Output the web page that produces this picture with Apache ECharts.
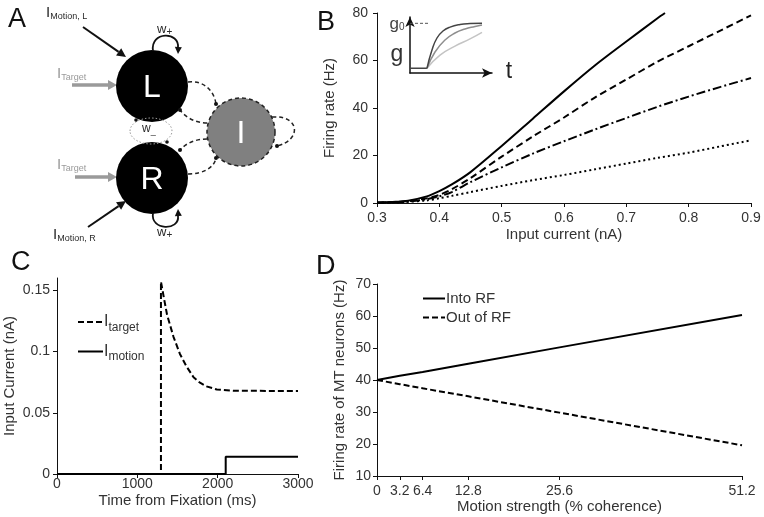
<!DOCTYPE html>
<html><head><meta charset="utf-8">
<script src="https://cdn.jsdelivr.net/npm/echarts@6/dist/echarts.min.js"></script>
<style>html,body{margin:0;padding:0;background:#fff}#c{width:764px;height:517px}</style>
</head><body><div id="c"></div><script>
// ---------- DATA ----------
// Panel B: firing rate vs input current
const bCurrent = [0.30,0.33,0.35,0.38,0.40,0.42,0.45,0.50,0.55,0.60,0.65,0.70,0.75,0.80,0.85,0.90];
const bCurrentSolid = [0.30,0.33,0.35,0.38,0.40,0.42,0.45,0.50,0.55,0.60,0.65,0.70,0.75,0.762];
const bSolid   = [0.2,0.5,1.0,2.8,5.0,7.8,13.0,24.0,35.5,47.0,58,68,77.8,80];
const bDashed  = [0.1,0.4,0.8,2.0,3.4,5.8,10.5,19.5,28,36,44.5,52,59.5,66,72.5,79];
const bDashDot = [0.1,0.3,0.6,1.6,2.8,4.6,8.8,15.0,20.8,26,31,35.8,40.5,44.8,48.8,52.6];
const bDotted  = [0.1,0.2,0.5,1.1,2.0,3.0,4.6,7.2,9.6,11.8,14.2,16.6,19,21.2,23.8,26.4];
// Inset of panel B: conductance g(t)
const insetBaseT = [0, 2.07];
const insetBaseG = [0.084, 0.084];
const insetG0T = [0, 2.44];
const insetG0G = [0.887, 0.887];
const insetDarkT = [2.07,2.68,3.29,4.02,4.88,6.1,7.32,8.78];
const insetDarkG = [0.084,0.41,0.625,0.75,0.82,0.866,0.882,0.887];
const insetMidT  = [2.07,3.05,4.27,5.49,6.71,7.93,8.78];
const insetMidG  = [0.084,0.375,0.59,0.714,0.786,0.83,0.857];
const insetLightT = [2.07,3.66,5.49,7.32,8.78];
const insetLightG = [0.084,0.32,0.48,0.61,0.727];
// Panel C: input currents over time
const cTargetT = [0,1294,1294,1330,1370,1450,1530,1610,1700,1780,1860,1990,2200,3000];
const cTargetI = [0,0,0.157,0.144,0.130,0.112,0.098,0.088,0.079,0.0745,0.0715,0.069,0.068,0.0677];
const cMotionT = [0,2100,2100,3000];
const cMotionI = [0,0,0.014,0.014];
const cYTicks = [0,0.05,0.1,0.15];
// Panel D: MT firing rates vs coherence
const dCoherence = [0,3.2,6.4,12.8,25.6,51.2];
const dInto = [40,41.3,42.5,45.1,50.2,60.3];
const dOut  = [40,38.7,37.4,34.9,29.8,19.6];

// ---------- helpers ----------
const FF = 'Liberation Sans, Arial, sans-serif';
const zip = (a,b) => a.map((v,i)=>[v,b[i]]);
const TXT = '#2a2a2a';

function arrow(x1,y1,x2,y2,color,w,hl,hw){
  const a = Math.atan2(y2-y1,x2-x1);
  const bx = x2 - hl*Math.cos(a), by = y2 - hl*Math.sin(a);
  return [
    {type:'line', shape:{x1,y1,x2:bx,y2:by}, style:{stroke:color,lineWidth:w}},
    {type:'polygon', shape:{points:[[x2,y2],[bx+hw*Math.sin(a),by-hw*Math.cos(a)],[bx-hw*Math.sin(a),by+hw*Math.cos(a)]]}, style:{fill:color}}
  ];
}
function head(x,y,fx,fy,color,hl,hw){
  const a = Math.atan2(y-fy,x-fx);
  const bx = x - hl*Math.cos(a), by = y - hl*Math.sin(a);
  return {type:'polygon', shape:{points:[[x,y],[bx+hw*Math.sin(a),by-hw*Math.cos(a)],[bx-hw*Math.sin(a),by+hw*Math.cos(a)]]}, style:{fill:color}};
}
function bez(x1,y1,c1x,c1y,c2x,c2y,x2,y2,style){
  return {type:'bezierCurve', shape:{x1,y1,cpx1:c1x,cpy1:c1y,cpx2:c2x,cpy2:c2y,x2,y2}, style:Object.assign({fill:null},style)};
}
function dot(x,y,r,c){ return {type:'circle', shape:{cx:x,cy:y,r:r}, style:{fill:c||'#111'}}; }
function sublabel(x,y,main,sub,color,big,small){
  return {type:'text', x, y, style:{text:'{a|'+main+'}{b|'+sub+'}', fill:color, font: big+'px '+FF,
    verticalAlign:'top', align:'left',
    rich:{a:{fontSize:big, fontFamily:FF, fill:color}, b:{fontSize:small, fontFamily:FF, fill:color, padding:[Math.round(big*0.45),0,0,0]}}}};
}
function letter(t,x,y){ return {type:'text', x, y, style:{text:t, font:'27px '+FF, fill:'#111', align:'left', verticalAlign:'middle'}}; }

const dashed = {stroke:'#222', lineWidth:1.5, lineDash:[4,3]};
const graphics = [].concat(
  [letter('A',8,20), letter('B',317,23), letter('C',11,263), letter('D',316,267)],
  arrow(83,27,126,57,'#111',2,9,4.5),
  arrow(88,227,126,201,'#111',2,9,4.5),
  arrow(72,85,117,85,'#9a9a9a',3.5,9,5),
  arrow(75,177,117,177,'#9a9a9a',3.5,9,5),
  [
    sublabel(46,5,'I','Motion, L',TXT,15,9),
    sublabel(57,66,'I','Target','#9a9a9a',15,9),
    sublabel(57,157,'I','Target','#9a9a9a',15,9),
    sublabel(53,227,'I','Motion, R',TXT,15,9)
  ],
  [
    {type:'circle', shape:{cx:152,cy:86,r:36}, style:{fill:'#000'}},
    {type:'circle', shape:{cx:152,cy:178,r:36}, style:{fill:'#000'}},
    {type:'circle', shape:{cx:241,cy:132,r:34}, style:{fill:'#808080', stroke:'#222', lineWidth:1.5, lineDash:[4,3]}},
    {type:'text', x:152, y:88, style:{text:'L', font:'32px '+FF, fill:'#fff', align:'center', verticalAlign:'middle'}},
    {type:'text', x:152, y:180, style:{text:'R', font:'32px '+FF, fill:'#fff', align:'center', verticalAlign:'middle'}},
    {type:'text', x:241, y:134, style:{text:'I', font:'32px '+FF, fill:'#fff', align:'center', verticalAlign:'middle'}}
  ],
  [
    bez(153,51,150,31,180,31,178,48,{stroke:'#111',lineWidth:1.8}),
    head(178,54,178.5,44,'#111',7,3.5),
    sublabel(157,21,'w','+',TXT,13,10),
    bez(153,213,150,231,180,231,178,216,{stroke:'#111',lineWidth:1.8}),
    head(178,209,178.5,219,'#111',7,3.5),
    sublabel(157,224,'w','+',TXT,13,10)
  ],
  [
    {type:'ellipse', shape:{cx:151,cy:131,rx:21,ry:13}, style:{fill:null, stroke:'#999', lineWidth:1, lineDash:[1.5,2]}},
    dot(136,120,1.8), dot(167,142,1.8),
    sublabel(142,122,'w','_',TXT,12,9)
  ],
  [
    bez(188,82,203,80,214,90,216,104,dashed), dot(216,104,2),
    bez(207,123,196,123,186,118,180,110,dashed), dot(180,110,2),
    bez(207,139,196,139,186,143,180,150,dashed), dot(180,150,2),
    bez(188,174,203,174,214,168,216,158,dashed), dot(216,158,2),
    bez(272,117,300,115,302,140,277,146,dashed), dot(277,146,2)
  ],
  [
    {type:'text', x:397, y:24, style:{text:'{a|g}{b|0}', font:'17px '+FF, fill:'#444', align:'center', verticalAlign:'middle',
      rich:{a:{fontSize:17,fontFamily:FF,fill:'#444'}, b:{fontSize:10,fontFamily:FF,fill:'#444',padding:[7,0,0,0]}}}},
    {type:'text', x:397, y:55, style:{text:'g', font:'23px '+FF, fill:'#333', align:'center', verticalAlign:'middle'}},
    {type:'text', x:509, y:72, style:{text:'t', font:'23px '+FF, fill:'#222', align:'center', verticalAlign:'middle'}}
  ]
);

const axisTxt = {color:'#333', fontSize:14, fontFamily:FF};
const nameTxt = {color:'#333', fontSize:15, fontFamily:FF};
const aLine = {show:true, onZero:false, lineStyle:{color:'#111', width:1}};
const aTick = {show:true, inside:false, length:4, lineStyle:{color:'#111'}};
const plain = v => String(v);

const option = {
  animation:false,
  backgroundColor:'#fff',
  textStyle:{fontFamily:FF},
  graphic: graphics,
  grid:[
    {left:377, right:13, top:13, bottom:314},
    {left:410, top:17, width:82, height:56},
    {left:57, width:241, top:278, bottom:43},
    {left:377, width:365, top:284, bottom:41}
  ],
  xAxis:[
    {gridIndex:0, type:'value', min:0.3, max:0.9, interval:0.1, axisLine:aLine, axisTick:aTick, splitLine:{show:false},
     axisLabel:Object.assign({margin:8, formatter:v=>v.toFixed(1)},axisTxt),
     name:'Input current (nA)', nameLocation:'middle', nameGap:24, nameTextStyle:nameTxt},
    {gridIndex:1, type:'value', min:0, max:10, axisLine:{show:true,onZero:false,symbol:['none','arrow'],symbolSize:[7,10],lineStyle:{color:'#111',width:1.5}},
     axisTick:{show:false}, axisLabel:{show:false}, splitLine:{show:false}},
    {gridIndex:2, type:'value', min:0, max:3000, interval:1000, axisLine:aLine, axisTick:aTick, splitLine:{show:false},
     axisLabel:Object.assign({margin:3, formatter:plain},axisTxt),
     name:'Time from Fixation (ms)', nameLocation:'middle', nameGap:19, nameTextStyle:nameTxt},
    {gridIndex:3, type:'value', min:0, max:51.2, axisLine:aLine,
     axisTick:Object.assign({customValues:dCoherence},aTick), splitLine:{show:false},
     axisLabel:Object.assign({margin:8, customValues:dCoherence, hideOverlap:false, formatter:plain},axisTxt),
     name:'Motion strength (% coherence)', nameLocation:'middle', nameGap:19, nameTextStyle:nameTxt}
  ],
  yAxis:[
    {gridIndex:0, type:'value', min:0, max:80, interval:20, axisLine:aLine, axisTick:aTick, splitLine:{show:false},
     axisLabel:Object.assign({margin:9},axisTxt),
     name:'Firing rate (Hz)', nameLocation:'middle', nameGap:40, nameTextStyle:nameTxt},
    {gridIndex:1, type:'value', min:0, max:1, axisLine:{show:true,onZero:false,symbol:['none','arrow'],symbolSize:[7,10],lineStyle:{color:'#111',width:1.5}},
     axisTick:{show:false}, axisLabel:{show:false}, splitLine:{show:false}},
    {gridIndex:2, type:'value', min:0, max:0.16, axisLine:aLine,
     axisTick:Object.assign({customValues:cYTicks},aTick), splitLine:{show:false},
     axisLabel:Object.assign({margin:7, customValues:cYTicks, formatter:plain},axisTxt),
     name:'Input Current (nA)', nameLocation:'middle', nameGap:40, nameTextStyle:nameTxt},
    {gridIndex:3, type:'value', min:10, max:70, interval:10, axisLine:aLine, axisTick:aTick, splitLine:{show:false},
     axisLabel:Object.assign({margin:6},axisTxt),
     name:'Firing rate of MT neurons (Hz)', nameLocation:'middle', nameGap:30, nameTextStyle:nameTxt}
  ],
  legend:[
    {data:['Itarget','Imotion'], orient:'vertical', left:72, top:309, itemGap:10, itemWidth:25, itemHeight:14,
     itemStyle:{opacity:0},
     formatter:n=> n==='Itarget' ? '{a|I}{b|target}' : '{a|I}{b|motion}',
     textStyle:{color:'#333', fontFamily:FF, padding:[0,0,0,-4],
       rich:{a:{fontSize:16,fontFamily:FF,color:'#333'}, b:{fontSize:12,fontFamily:FF,color:'#333',padding:[11,0,0,0]}}}},
    {data:['Into RF','Out of RF'], orient:'vertical', left:417, top:286, itemGap:4, itemWidth:22, itemHeight:14,
     itemStyle:{opacity:0},
     textStyle:{color:'#333', fontSize:15, fontFamily:FF, padding:[0,0,0,-4]}}
  ],
  series:[
    {name:'b1', type:'line', xAxisIndex:0, yAxisIndex:0, data:zip(bCurrentSolid,bSolid), symbol:'none', smooth:0.3, lineStyle:{color:'#000',width:2}},
    {name:'b2', type:'line', xAxisIndex:0, yAxisIndex:0, data:zip(bCurrent,bDashed), symbol:'none', smooth:0.3, lineStyle:{color:'#000',width:2,type:[7,4]}},
    {name:'b3', type:'line', xAxisIndex:0, yAxisIndex:0, data:zip(bCurrent,bDashDot), symbol:'none', smooth:0.3, lineStyle:{color:'#000',width:2,type:[9,3,2,3]}},
    {name:'b4', type:'line', xAxisIndex:0, yAxisIndex:0, data:zip(bCurrent,bDotted), symbol:'none', smooth:0.3, lineStyle:{color:'#000',width:2,type:[2,3]}},
    {name:'ib', type:'line', xAxisIndex:1, yAxisIndex:1, data:zip(insetBaseT,insetBaseG), symbol:'none', lineStyle:{color:'#444',width:1.5}},
    {name:'ig0', type:'line', xAxisIndex:1, yAxisIndex:1, data:zip(insetG0T,insetG0G), symbol:'none', lineStyle:{color:'#555',width:1,type:[3,2]}},
    {name:'il', type:'line', xAxisIndex:1, yAxisIndex:1, data:zip(insetLightT,insetLightG), symbol:'none', smooth:true, lineStyle:{color:'#c4c4c4',width:1.5}},
    {name:'im', type:'line', xAxisIndex:1, yAxisIndex:1, data:zip(insetMidT,insetMidG), symbol:'none', smooth:true, lineStyle:{color:'#8e8e8e',width:1.5}},
    {name:'id', type:'line', xAxisIndex:1, yAxisIndex:1, data:zip(insetDarkT,insetDarkG), symbol:'none', smooth:true, lineStyle:{color:'#444',width:1.5}},
    {name:'Imotion', type:'line', xAxisIndex:2, yAxisIndex:2, data:zip(cMotionT,cMotionI), symbol:'none', lineStyle:{color:'#000',width:2}, itemStyle:{color:'#000'}},
    {name:'Itarget', type:'line', xAxisIndex:2, yAxisIndex:2, data:zip(cTargetT,cTargetI), symbol:'none', lineStyle:{color:'#000',width:2,type:[6,3]}, itemStyle:{color:'#000'}},
    {name:'Into RF', type:'line', xAxisIndex:3, yAxisIndex:3, data:zip(dCoherence,dInto), symbol:'none', lineStyle:{color:'#000',width:2}, itemStyle:{color:'#000'}},
    {name:'Out of RF', type:'line', xAxisIndex:3, yAxisIndex:3, data:zip(dCoherence,dOut), symbol:'none', lineStyle:{color:'#000',width:2,type:[6,3]}, itemStyle:{color:'#000'}}
  ]
};
const chart = echarts.init(document.getElementById('c'), null, {renderer:'canvas'});
chart.setOption(option);
</script></body></html>
